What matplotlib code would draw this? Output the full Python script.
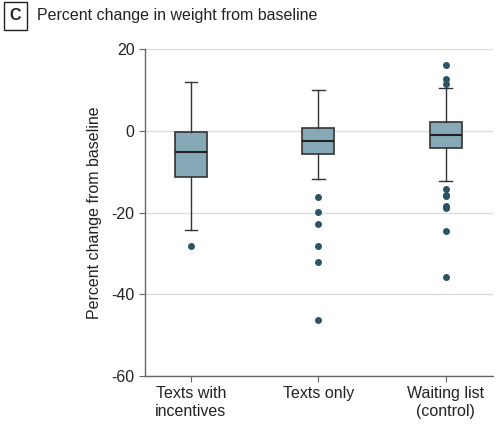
import matplotlib.pyplot as plt

groups = ["Texts with\nincentives", "Texts only", "Waiting list\n(control)"]
q1 = [-11.4, -5.8, -4.1]
med = [-5.3, -2.6, -1.0]
q3 = [-0.4, 0.7, 2.1]
whislo = [-24.4, -11.9, -12.3]
whishi = [11.9, 10.0, 10.4]
fliers = [
    [-28.2],
    [-16.3, -19.8, -22.7, -28.2, -32.0, -46.2],
    [16.0, 12.6, 11.5, -14.2, -15.6, -16.0, -18.5, -18.9, -24.6, -35.9],
]

plt.rcParams['font.family'] = ['Liberation Sans', 'DejaVu Sans']

box_color = "#85a9b7"
edge = "#333333"
dot = "#2b5566"

stats = []
for i in range(len(groups)):
    stats.append(dict(med=med[i], q1=q1[i], q3=q3[i], whislo=whislo[i],
                      whishi=whishi[i], fliers=fliers[i], label=groups[i]))

fig = plt.figure(figsize=(4.99, 4.32), dpi=100)
ax = fig.add_axes([0.2906, 0.1296, 0.6974, 0.757])

ax.bxp(stats, positions=[1, 2, 3], widths=0.25, patch_artist=True,
       capwidths=0.1,
       boxprops=dict(facecolor=box_color, edgecolor=edge, linewidth=1.2),
       medianprops=dict(color="#222222", linewidth=1.5),
       whiskerprops=dict(color=edge, linewidth=1.0),
       capprops=dict(color=edge, linewidth=1.0),
       flierprops=dict(marker="o", markerfacecolor=dot, markeredgecolor=dot,
                       markersize=4))

ax.set_xlim(0.64, 3.37)
ax.set_ylim(-60, 20)
ax.set_yticks([-60, -40, -20, 0, 20])
ax.set_yticklabels(["-60", "-40", "-20", "0", "20"])
ax.yaxis.grid(True, color="#dddddd", linewidth=1.0)
ax.set_axisbelow(True)

for s in ["top", "right"]:
    ax.spines[s].set_visible(False)
for s in ["left", "bottom"]:
    ax.spines[s].set_color("#666666")
    ax.spines[s].set_linewidth(1.0)
ax.tick_params(axis="both", colors="#666666", labelcolor="#222222",
               labelsize=11.5, length=4)
ax.set_ylabel("Percent change from baseline", fontsize=11.5, color="#222222",
              labelpad=7)

fig.text(0.031, 0.963, "C", fontsize=11.5, fontweight="bold", ha="center",
         va="center", color="#222222",
         bbox=dict(boxstyle="square,pad=0.38", facecolor="white",
                   edgecolor="#222222", linewidth=1.0))
fig.text(0.074, 0.963, "Percent change in weight from baseline", fontsize=11.5,
         ha="left", va="center", color="#222222")

fig.savefig("out.png", dpi=100)
